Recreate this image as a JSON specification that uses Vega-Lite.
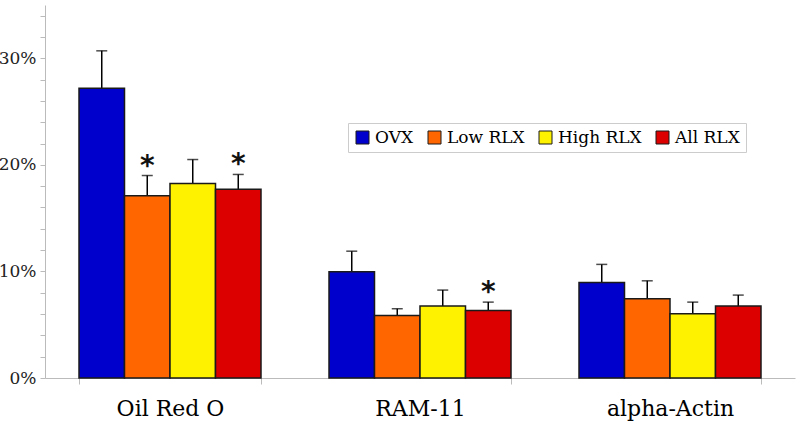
{
  "$schema": "https://vega.github.io/schema/vega-lite/v6.json",
  "width": 750,
  "height": 373,
  "autosize": {"type": "none"},
  "padding": {"left": 45, "top": 5, "right": 5, "bottom": 56},
  "background": "white",
  "config": {
    "view": {"stroke": null},
    "font": "DejaVu Serif",
    "axis": {"labelOverlap": false},
    "axisY": {"labelOverlap": false}
  },
  "data": {
    "values": [
      {"group": "Oil Red O", "series": "OVX", "value": 0.272, "upper": 0.307, "sig": ""},
      {"group": "Oil Red O", "series": "Low RLX", "value": 0.171, "upper": 0.190, "sig": "*"},
      {"group": "Oil Red O", "series": "High RLX", "value": 0.1825, "upper": 0.205, "sig": ""},
      {"group": "Oil Red O", "series": "All RLX", "value": 0.177, "upper": 0.191, "sig": "*"},
      {"group": "RAM-11", "series": "OVX", "value": 0.0996, "upper": 0.119, "sig": ""},
      {"group": "RAM-11", "series": "Low RLX", "value": 0.0587, "upper": 0.065, "sig": ""},
      {"group": "RAM-11", "series": "High RLX", "value": 0.0675, "upper": 0.0825, "sig": ""},
      {"group": "RAM-11", "series": "All RLX", "value": 0.0634, "upper": 0.0712, "sig": "*"},
      {"group": "alpha-Actin", "series": "OVX", "value": 0.0897, "upper": 0.1066, "sig": ""},
      {"group": "alpha-Actin", "series": "Low RLX", "value": 0.0743, "upper": 0.0912, "sig": ""},
      {"group": "alpha-Actin", "series": "High RLX", "value": 0.0603, "upper": 0.0712, "sig": ""},
      {"group": "alpha-Actin", "series": "All RLX", "value": 0.0675, "upper": 0.0778, "sig": ""}
    ]
  },
  "encoding": {
    "x": {
      "field": "group",
      "type": "nominal",
      "sort": ["Oil Red O", "RAM-11", "alpha-Actin"],
      "scale": {"paddingInner": 0.272, "paddingOuter": 0.136},
      "axis": {
        "title": null,
        "labelAngle": 0,
        "labelFont": "DejaVu Serif",
        "labelFontSize": 22,
        "labelColor": "black",
        "labelPadding": 14,
        "tickBand": "extent",
        "tickSize": 6,
        "tickColor": "#bbbbbb",
        "domainColor": "#bbbbbb",
        "domainWidth": 1
      }
    },
    "xOffset": {
      "field": "series",
      "type": "nominal",
      "sort": ["OVX", "Low RLX", "High RLX", "All RLX"],
      "scale": {"paddingInner": 0, "paddingOuter": 0}
    },
    "y": {
      "field": "value",
      "type": "quantitative",
      "scale": {"domain": [0, 0.35], "nice": false},
      "axis": {
        "title": null,
        "values": [0, 0.02, 0.04, 0.06, 0.08, 0.1, 0.12, 0.14, 0.16, 0.18, 0.2, 0.22, 0.24, 0.26, 0.28, 0.3, 0.32, 0.34],
        "labelExpr": "round(datum.value*100) % 10 === 0 ? round(datum.value*100) + '%' : ''",
        "labelOverlap": false,
        "grid": false,
        "tickSize": 5,
        "tickColor": "#bbbbbb",
        "domainColor": "#bbbbbb",
        "labelFont": "DejaVu Serif",
        "labelFontSize": 17,
        "labelColor": "#222222",
        "labelPadding": 4
      }
    }
  },
  "layer": [
    {
      "mark": {"type": "rule", "color": "black", "strokeWidth": 1.5},
      "encoding": {
        "y2": {"field": "upper"}
      }
    },
    {
      "mark": {"type": "tick", "color": "black", "size": 11, "thickness": 1.5},
      "encoding": {
        "y": {"field": "upper", "type": "quantitative"}
      }
    },
    {
      "mark": {"type": "bar", "stroke": "#1a1a1a", "strokeWidth": 1.5},
      "encoding": {
        "color": {
          "field": "series",
          "type": "nominal",
          "sort": ["OVX", "Low RLX", "High RLX", "All RLX"],
          "scale": {
            "domain": ["OVX", "Low RLX", "High RLX", "All RLX"],
            "range": ["#0000cc", "#ff6600", "#fff200", "#dd0000"]
          },
          "legend": {
            "title": null,
            "orient": "none",
            "legendX": 303,
            "legendY": 118,
            "direction": "horizontal",
            "strokeColor": "#cccccc",
            "padding": 6,
            "symbolType": "square",
            "symbolSize": 169,
            "symbolStrokeColor": "#1a1a1a",
            "symbolStrokeWidth": 1,
            "symbolOpacity": 1,
            "labelFont": "DejaVu Serif",
            "labelFontSize": 17,
            "labelColor": "black",
            "labelOffset": 4,
            "columnPadding": 12
          }
        }
      }
    },
    {
      "mark": {"type": "text", "font": "DejaVu Sans", "fontSize": 28, "fontWeight": "bold", "baseline": "alphabetic", "dy": -1, "color": "#111111"},
      "encoding": {
        "y": {"field": "upper", "type": "quantitative"},
        "text": {"field": "sig"}
      }
    }
  ]
}
